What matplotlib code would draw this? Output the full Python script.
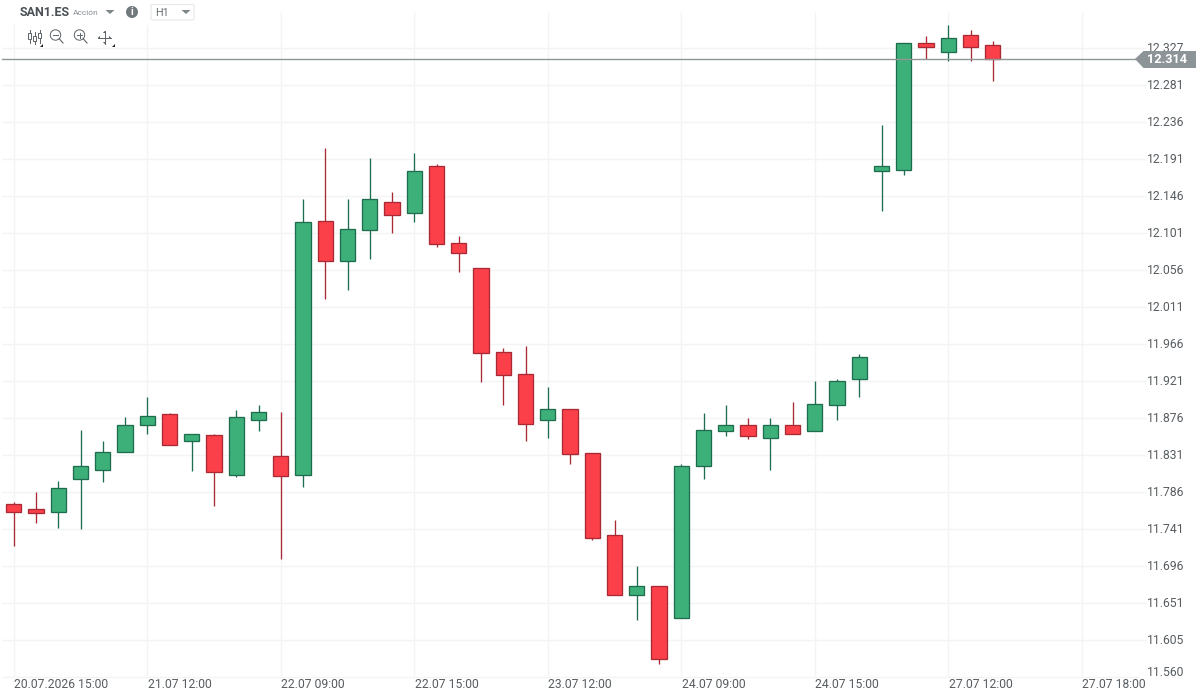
import matplotlib
matplotlib.use("Agg")
import matplotlib.pyplot as plt
from matplotlib.patches import Circle, Polygon, Rectangle, FancyBboxPatch

plt.rcParams['font.family'] = ['Roboto', 'DejaVu Sans']

# Hourly OHLC quotes for SAN1.ES
opens = [11.771, 11.765, 11.761, 11.801, 11.813, 11.835, 11.867, 11.881, 11.848, 11.855,
         11.807, 11.873, 11.830, 11.807, 12.116, 12.067, 12.105, 12.139, 12.126, 12.183,
         12.090, 12.059, 11.956, 11.930, 11.873, 11.887, 11.833, 11.733, 11.660, 11.671,
         11.632, 11.817, 11.860, 11.868, 11.851, 11.867, 11.860, 11.892, 11.923, 12.177,
         12.179, 12.334, 12.323, 12.343, 12.331]
highs = [11.773, 11.786, 11.799, 11.861, 11.848, 11.877, 11.902, 11.882, 11.856, 11.857,
         11.886, 11.892, 11.883, 12.143, 12.205, 12.143, 12.193, 12.152, 12.199, 12.186,
         12.098, 12.059, 11.961, 11.964, 11.914, 11.887, 11.833, 11.752, 11.695, 11.671,
         11.820, 11.882, 11.892, 11.876, 11.876, 11.895, 11.921, 11.923, 11.954, 12.233,
         12.333, 12.342, 12.355, 12.349, 12.336]
lows = [11.720, 11.748, 11.742, 11.740, 11.798, 11.835, 11.856, 11.843, 11.811, 11.768,
        11.804, 11.860, 11.704, 11.792, 12.021, 12.032, 12.070, 12.102, 12.115, 12.084,
        12.054, 11.920, 11.892, 11.848, 11.852, 11.820, 11.727, 11.660, 11.630, 11.576,
        11.632, 11.802, 11.854, 11.850, 11.812, 11.856, 11.860, 11.874, 11.902, 12.128,
        12.172, 12.314, 12.312, 12.312, 12.287]
closes = [11.761, 11.760, 11.790, 11.817, 11.834, 11.867, 11.878, 11.843, 11.856, 11.810,
          11.877, 11.883, 11.805, 12.115, 12.067, 12.106, 12.143, 12.123, 12.177, 12.088,
          12.077, 11.955, 11.929, 11.869, 11.887, 11.832, 11.729, 11.660, 11.671, 11.582,
          11.817, 11.861, 11.867, 11.854, 11.868, 11.857, 11.893, 11.921, 11.950, 12.183,
          12.333, 12.329, 12.340, 12.329, 12.314]
last_price = 12.314

price_ticks = [12.3270, 12.2819, 12.2368, 12.1916, 12.1465, 12.1014, 12.0563, 12.0112, 11.9660,
               11.9209, 11.8758, 11.8307, 11.7856, 11.7404, 11.6953, 11.6502, 11.6051, 11.5600]
price_labels = ['12.327', '12.281', '12.236', '12.191', '12.146', '12.101', '12.056', '12.011', '11.966',
                '11.921', '11.876', '11.831', '11.786', '11.741', '11.696', '11.651', '11.605', '11.560']
time_ticks = [0, 6, 12, 18, 24, 30, 36, 42, 48]
time_labels = ['20.07.2026 15:00', '21.07 12:00', '22.07 09:00', '22.07 15:00', '23.07 12:00',
               '24.07 09:00', '24.07 15:00', '27.07 12:00', '27.07 18:00']

W, H = 1202, 695
GREEN, GREEN_EDGE = '#3DB079', '#1E6E4E'
RED, RED_EDGE = '#FB4049', '#A92A35'
GRID = '#F3F4F4'
TEXT = '#565C60'

fig = plt.figure(figsize=(W / 100, H / 100), dpi=100, facecolor='white')

# Price panel fills the figure; limits set the candle spacing and price scale
ax = fig.add_axes([0, 0, 1, 1])
ax.set_xlim(-13.8 / 22.25, (W - 13.8) / 22.25)
ax.set_ylim(11.5380, 12.3859)
ax.axis('off')

# Grid
ytrans = ax.get_yaxis_transform()
xtrans = ax.get_xaxis_transform()
ax.hlines(price_ticks[:-1], 2 / W, 1146 / W, transform=ytrans, color=GRID, lw=1.0, zorder=1)
ax.hlines(price_ticks[-1:], 2 / W, 1139 / W, transform=ytrans, color=GRID, lw=1.0, zorder=1)
ax.vlines(time_ticks, (H - 677) / H, (H - 12) / H, transform=xtrans, color=GRID, lw=1.0, zorder=1)

# Candles
for i, (o, h, l, c) in enumerate(zip(opens, highs, lows, closes)):
    up = c >= o
    ax.vlines(i, l, h, color=GREEN_EDGE if up else RED_EDGE, lw=0.95, zorder=2)
    ax.bar(i, abs(c - o), bottom=min(o, c), width=0.69,
           facecolor=GREEN if up else RED, edgecolor=GREEN_EDGE if up else RED_EDGE,
           linewidth=0.95, zorder=3)

# Overlay working in screen units for the scale text and the toolbar
ov = fig.add_axes([0, 0, 1, 1])
ov.set_xlim(0, W)
ov.set_ylim(H, 0)
ov.axis('off')
ov.patch.set_alpha(0)

to_px_y = lambda p: ax.transData.transform((0, p))[1]
for p, lab in zip(price_ticks, price_labels):
    y = H - to_px_y(p) + 0.7
    if lab == '11.560':
        y -= 5.5
    ov.text(1147, y, lab, fontsize=8.75, color=TEXT, va='center', ha='left')
for t, lab in zip(time_ticks, time_labels):
    x = ax.transData.transform((t, 0))[0] + 0.3
    ov.text(x, 684.8, lab, fontsize=8.75, color=TEXT, va='center', ha='left')

# Last price line and tag
last_y = H - to_px_y(last_price)
ov.plot([2, 1136], [last_y, last_y], color='#8F9697', lw=1.0, zorder=5)
ov.add_patch(Polygon([[1135, last_y], [1143.5, 51], [1196, 51], [1196, 68], [1143.5, 68]],
                     closed=True, facecolor='#8D9498', edgecolor='none', zorder=6))
ov.text(1147, last_y + 0.5, f'{last_price:.3f}', fontsize=9.2, fontweight='bold', color='white',
        va='center', ha='left', zorder=7)

# Header and toolbar backdrop
ov.add_patch(Rectangle((0, 0), 220, 25, facecolor='white', edgecolor='none', zorder=4))
ov.add_patch(Rectangle((15, 25), 105, 22, facecolor='white', edgecolor='none', zorder=4))

ov.text(20, 12.5, 'SAN1.ES', fontsize=9, fontweight='bold', color='#4A5055', va='center', zorder=7)
ov.text(73, 13, 'Acción', fontsize=6.0, color='#8B9195', va='center', zorder=7)
ov.add_patch(Polygon([[105.5, 10], [114.5, 10], [110, 14]], facecolor='#7E8589', edgecolor='none', zorder=7))
ov.add_patch(Circle((132, 12), 6, facecolor='#72797D', edgecolor='none', zorder=7))
ov.text(132, 12.3, 'i', fontsize=7.5, fontweight='bold', color='white', ha='center', va='center', zorder=8)
ov.add_patch(FancyBboxPatch((151, 4.5), 43, 15.5, boxstyle='round,pad=0,rounding_size=1.5',
                            facecolor='white', edgecolor='#E6E7E8', lw=0.8, zorder=7))
ov.text(155.5, 12.5, 'H1', fontsize=7.8, color='#6A7074', va='center', zorder=8)
ov.add_patch(Polygon([[181.5, 10], [190.5, 10], [186, 14]], facecolor='#7E8589', edgecolor='none', zorder=8))

ICON = '#5C6367'
# Chart-type icon
for x, y0, y1, b0, b1 in [(29.5, 30, 43, 33, 39), (34.5, 32, 44, 36, 41), (39.5, 30, 43, 33, 38)]:
    ov.plot([x, x], [y0, y1], color=ICON, lw=0.7, zorder=7)
    ov.add_patch(Rectangle((x - 1.5, b0), 3, b1 - b0, facecolor='white', edgecolor=ICON, lw=0.7, zorder=8))
ov.add_patch(Polygon([[43, 43.5], [43, 46.5], [40, 46.5]], facecolor='#222222', edgecolor='none', zorder=8))
# Zoom out and zoom in
for cx, plus in [(55.5, False), (79.5, True)]:
    ov.add_patch(Circle((cx, 35), 5.2, facecolor='none', edgecolor=ICON, lw=0.7, zorder=7))
    ov.plot([cx + 3.7, cx + 7.5], [38.7, 43], color=ICON, lw=0.8, zorder=7)
    ov.plot([cx - 2.5, cx + 2.5], [35, 35], color=ICON, lw=0.7, zorder=7)
    if plus:
        ov.plot([cx, cx], [32.5, 37.5], color=ICON, lw=0.7, zorder=7)
# Pan icon
ov.plot([98, 111], [37.5, 37.5], color=ICON, lw=0.7, zorder=7)
ov.plot([104.5, 104.5], [31, 44], color=ICON, lw=0.7, zorder=7)
for pts in ([[98, 37.5], [100, 36], [100, 39]], [[111, 37.5], [109, 36], [109, 39]],
            [[104.5, 31], [103, 33], [106, 33]], [[104.5, 44], [103, 42], [106, 42]]):
    ov.add_patch(Polygon(pts, facecolor=ICON, edgecolor='none', zorder=7))
ov.add_patch(Polygon([[115, 43.5], [115, 46.5], [112, 46.5]], facecolor='#222222', edgecolor='none', zorder=8))

fig.savefig('out.png', dpi=100, facecolor='white')
